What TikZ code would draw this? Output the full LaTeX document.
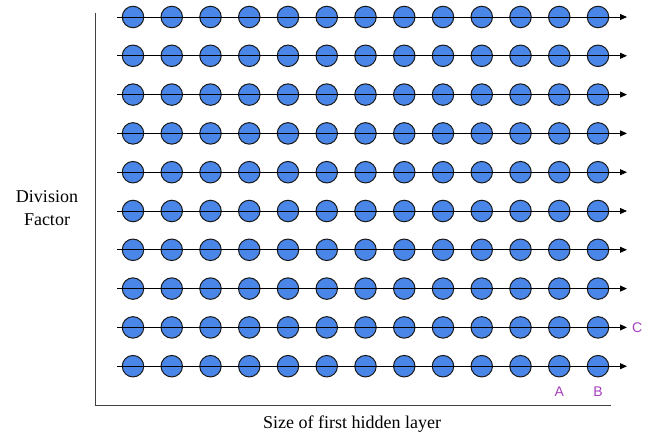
\documentclass[tikz,border=0pt]{standalone}
\usepackage{fontspec}
\setmainfont{Liberation Serif}
\newfontfamily\tagfont{Liberation Sans}
\usetikzlibrary{arrows.meta,positioning}
\definecolor{dotblue}{HTML}{4A86E8}
\definecolor{tagpurple}{HTML}{A63EBE}

\begin{document}
\begin{tikzpicture}[x=1pt, y=-1pt,
	every node/.style={font=\fontsize{18}{23}\selectfont},
	dot/.style={circle, draw=black!90, line width=1pt, fill=dotblue, minimum size=21.5pt, inner sep=0pt},
	tag/.style={text=tagpurple, font=\tagfont\fontsize{14}{16}\selectfont, inner sep=1pt}]
	\useasboundingbox (0,0) rectangle (657,441);
	% axes
	\coordinate (top) at (95,13);
	\coordinate (origin) at (95,405);
	\coordinate (right) at (611,405);
	\draw[black!75, line width=1pt] (top) -- (origin) -- (right);
	% grid of dots, one arrow per row
	\foreach \r in {0,...,9} {
		\foreach \c in {0,...,12}
			\node[dot] (n\r-\c) at (133+38.75*\c, 17+38.8*\r) {};
		\coordinate (s\r) at (117, 17+38.8*\r);
		\coordinate (e\r) at (627, 17+38.8*\r);
		\draw[black, line width=0.9pt, -{Triangle[length=7pt, width=6pt]}] (s\r) -- (e\r);
	}
	\node[tag, right=4pt of e8] (c) {C};
	\node[tag, below=8pt of n9-11] (a) {A};
	\node[tag, below=8pt of n9-12] (b) {B};
	% axis titles
	\node[align=center] (yl) at (47,208) {Division\\Factor};
	\node (xl) at (352,424) {Size of first hidden layer};
\end{tikzpicture}
\end{document}
